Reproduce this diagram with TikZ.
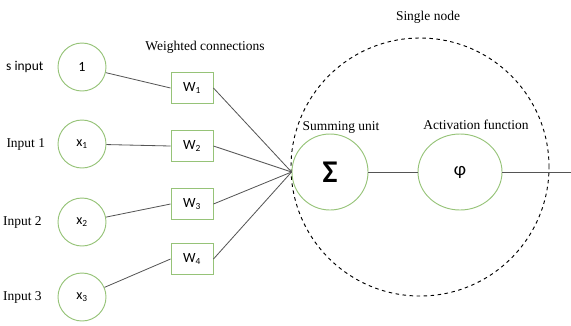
\documentclass[tikz,border=0pt]{standalone}
\usepackage{fontspec}
\setmainfont{Liberation Serif}
\newfontfamily\calib{Carlito}
\usepackage{tikz}
\usetikzlibrary{positioning, shapes.geometric}
\definecolor{ringgreen}{RGB}{150,195,120}
\definecolor{wiregray}{RGB}{85,85,85}

\begin{document}
\begin{tikzpicture}[x=0.03cm, y=-0.03cm,
    every node/.style={font=\fontsize{11.5}{13}\selectfont},
    incircle/.style={circle, draw=ringgreen, thick, minimum size=1.44cm, inner sep=0pt, font=\calib\fontsize{12}{14}\selectfont},
    wbox/.style={rectangle, draw=ringgreen, thick, minimum width=1.26cm, minimum height=0.93cm, inner sep=0pt, font=\calib\fontsize{12}{14}\selectfont},
    wire/.style={draw=wiregray, line width=0.7pt}]
    \useasboundingbox (0,0) rectangle (571,325);

    % single node boundary
    \node[circle, draw, dashed, thick, minimum size=7.74cm, inner sep=0pt] (single) at (420,167) {};
    \node (singlelbl) at (428,17) {Single node};

    % inputs
    \node[incircle] (in1) at (82,67) {1};
    \node[incircle] (in2) at (82,144) {x\textsubscript{1}};
    \node[incircle] (in3) at (82,222) {x\textsubscript{2}};
    \node[incircle] (in4) at (82,297) {x\textsubscript{3}};
    \node[left=0.3cm of in1, font=\calib\fontsize{11.5}{13}\selectfont] (lbl1) {s input};
    \node[left=0.25cm of in2] (lbl2) {Input 1};
    \node[left=0.35cm of in3] (lbl3) {Input 2};
    \node[left=0.35cm of in4, yshift=-0.02cm] (lbl4) {Input 3};

    % weights
    \node (wlbl) at (205,47) {Weighted connections};
    \node[wbox] (w1) at (192,88) {W\textsubscript{1}};
    \node[wbox] (w2) at (192,146) {W\textsubscript{2}};
    \node[wbox] (w3) at (192,204) {W\textsubscript{3}};
    \node[wbox] (w4) at (192,259) {W\textsubscript{4}};

    % summing and activation
    \node[incircle, minimum size=2.28cm, font=\calib\bfseries\fontsize{27}{30}\selectfont] (sum) at (330,172) {Σ};
    \node[ellipse, draw=ringgreen, thick, minimum width=2.52cm, minimum height=2.28cm, inner sep=0pt, font=\calib\fontsize{16}{18}\selectfont] (phi) at (460,172) {φ};
    \node (sumlbl) at (341,127) {Summing unit};
    \node (philbl) at (476,125) {Activation function};
    \coordinate (out) at (571,172);

    \draw[wire] (in1) -- (w1.west);
    \draw[wire] (in2) -- (w2.west);
    \draw[wire] (in3) -- (w3.west);
    \draw[wire] (in4) -- (w4.west);
    \draw[wire] (w1.east) -- (sum.west);
    \draw[wire] (w2.east) -- (sum.west);
    \draw[wire] (w3.east) -- (sum.west);
    \draw[wire] (w4.east) -- (sum.west);
    \draw[wire] (sum) -- (phi);
    \draw[wire] (phi) -- (out);
\end{tikzpicture}
\end{document}
